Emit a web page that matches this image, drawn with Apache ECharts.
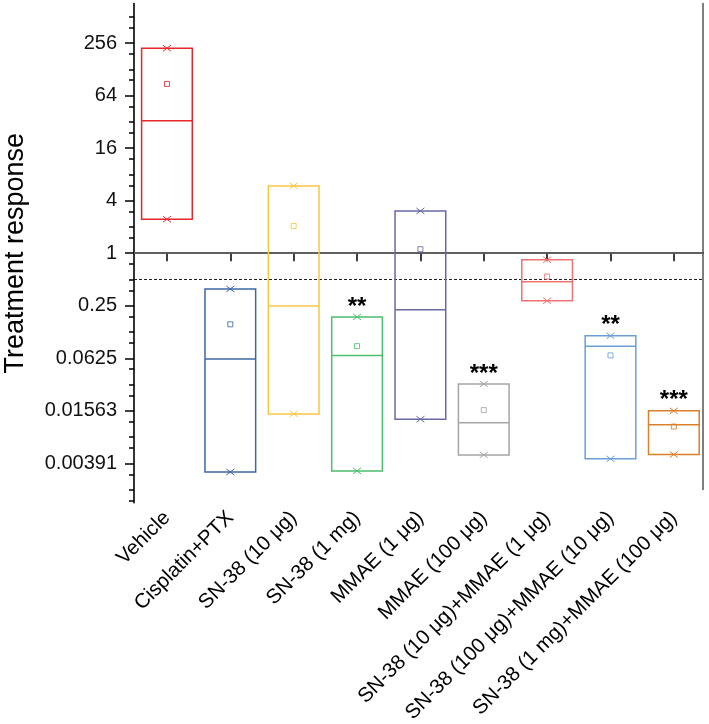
<!DOCTYPE html>
<html><head><meta charset="utf-8">
<script src="https://cdn.jsdelivr.net/npm/echarts@6/dist/echarts.min.js"></script>
<style>html,body{margin:0;padding:0;background:#fff}#c{width:709px;height:724px}</style>
</head><body><div id="c"></div>
<script>
// ---- data ----
const categories = ['Vehicle','Cisplatin+PTX','SN-38 (10 \u03bcg)','SN-38 (1 mg)','MMAE (1 \u03bcg)','MMAE (100 \u03bcg)','SN-38 (10 \u03bcg)+MMAE (1 \u03bcg)','SN-38 (100 \u03bcg)+MMAE (10 \u03bcg)','SN-38 (1 mg)+MMAE (100 \u03bcg)'];
const maxVals    = [223, 0.389, 5.9, 0.186, 3.05, 0.0317, 0.841, 0.113, 0.0156];
const medianVals = [33, 0.0611, 0.248, 0.0674, 0.224, 0.0114, 0.471, 0.086, 0.0108];
const meanVals   = [87, 0.153, 2.05, 0.086, 1.11, 0.0159, 0.54, 0.0674, 0.0103];
const minVals    = [2.45, 0.00311, 0.0144, 0.0032, 0.0125, 0.00488, 0.285, 0.0044, 0.00494];
const significance = ['', '', '', '**', '', '***', '', '**', '***'];
const colors = ['#e8262c','#3d67a6','#f6c842','#4cbf6d','#6a69a6','#a5a5a5','#ef7272','#6c9fd7','#d9802a'];
const yTickValues = [0.00390625, 0.015625, 0.0625, 0.25, 1, 4, 16, 64, 256];
const yTickLabels = ['0.00391','0.01563','0.0625','0.25','1','4','16','64','256'];
const refSolid = 1;
const refDashed = 0.5;

// ---- build ----
const L2 = Math.log2;
const xPos = categories.map((c, i) => i + 1);
const boxData = categories.map((c, i) => [i + 1, L2(maxVals[i]), L2(medianVals[i]), L2(meanVals[i]), L2(minVals[i])]);
const majorT = yTickValues.map(L2);
const minorT = [];
for (let k = -10; k <= 9; k++) {
  if (k >= -9 && k <= 9 && majorT.indexOf(k) < 0) minorT.push(k);
  const m = k + L2(1.5);
  if (m >= -9.5 && m <= 9.5) minorT.push(m);
}
const FONT = 'Liberation Sans, Arial, sans-serif';
const HW = 0.4;
const labelFor = v => {
  const j = majorT.findIndex(t => Math.abs(t - v) < 1e-9);
  return j >= 0 ? yTickLabels[j] : '';
};

const chart = echarts.init(document.getElementById('c'), null, {renderer: 'canvas'});
chart.setOption({
  animation: false,
  backgroundColor: '#fff',
  grid: [
    {left: 134, top: 3.6, width: 569, height: 486, containLabel: false, outerBoundsMode: 'none'},
    {left: 134, top: 3.6, width: 569, height: 499.2, containLabel: false, outerBoundsMode: 'none'}
  ],
  xAxis: [
    {gridIndex: 0, type: 'value', min: 0.48, max: 9.46, position: 'bottom',
     axisLine: {show: true, lineStyle: {color: '#000', width: 1.6}},
     axisTick: {show: true, customValues: xPos, length: 8, lineStyle: {color: '#000', width: 1.5}},
     axisLabel: {customValues: xPos, rotate: 45, fontSize: 20.5, fontFamily: FONT, color: '#000', margin: 25,
       formatter: v => categories[Math.round(v) - 1]},
     splitLine: {show: false}},
    {gridIndex: 0, type: 'value', min: 0.48, max: 9.46, position: 'top',
     axisLine: {show: true, lineStyle: {color: '#555', width: 1.5}},
     axisTick: {show: false}, axisLabel: {show: false}, splitLine: {show: false}},
    {gridIndex: 1, type: 'value', min: 0.48, max: 9.46, show: false}
  ],
  yAxis: [
    {gridIndex: 0, type: 'value', min: -9, max: 9.5, position: 'left',
     axisLine: {show: false}, axisTick: {show: false}, axisLabel: {show: false}, splitLine: {show: false}},
    {gridIndex: 0, type: 'value', min: -9, max: 9.5, position: 'right',
     axisLine: {show: true, lineStyle: {color: '#555', width: 1.5}},
     axisTick: {show: false}, axisLabel: {show: false}, splitLine: {show: false}},
    {gridIndex: 1, type: 'value', min: -9.5, max: 9.5, position: 'left',
     axisLine: {show: true, lineStyle: {color: '#000', width: 1.6}},
     axisTick: {show: true, customValues: majorT, length: 9, lineStyle: {color: '#000', width: 1.5}},
     axisLabel: {customValues: majorT, fontSize: 20, fontFamily: FONT, color: '#111', margin: 17,
       formatter: labelFor},
     splitLine: {show: false},
     name: 'Treatment response', nameLocation: 'middle', nameGap: 105,
     nameTextStyle: {fontSize: 27, fontFamily: FONT, color: '#000'}},
    {gridIndex: 1, type: 'value', min: -9.5, max: 9.5, position: 'left', offset: 0,
     axisLine: {show: false},
     axisTick: {show: true, customValues: minorT, length: 5, lineStyle: {color: '#000', width: 1.5}},
     axisLabel: {show: false}, splitLine: {show: false}}
  ],
  series: [
    {type: 'custom', xAxisIndex: 0, yAxisIndex: 0, data: boxData,
     encode: {x: 0, y: [1, 2, 3, 4]},
     renderItem: function (params, api) {
       const i = params.dataIndex;
       const x = api.value(0);
       const c = colors[i];
       const tl = api.coord([x - HW, api.value(1)]);
       const br = api.coord([x + HW, api.value(4)]);
       const ml = api.coord([x - HW, api.value(2)]);
       const mr = api.coord([x + HW, api.value(2)]);
       const mean = api.coord([x, api.value(3)]);
       const top = api.coord([x, api.value(1)]);
       const bot = api.coord([x, api.value(4)]);
       const cross = (p) => ({type: 'group', children: [
         {type: 'line', shape: {x1: p[0]-4, y1: p[1]-3, x2: p[0]+4, y2: p[1]+3}, style: {stroke: c, lineWidth: 1}},
         {type: 'line', shape: {x1: p[0]-4, y1: p[1]+3, x2: p[0]+4, y2: p[1]-3}, style: {stroke: c, lineWidth: 1}}
       ]});
       const children = [
         {type: 'rect', shape: {x: tl[0], y: tl[1], width: br[0]-tl[0], height: br[1]-tl[1]}, style: {fill: 'none', stroke: c, lineWidth: 1.5}},
         {type: 'line', shape: {x1: ml[0], y1: ml[1], x2: mr[0], y2: mr[1]}, style: {stroke: c, lineWidth: 1.5}},
         {type: 'rect', shape: {x: mean[0]-2.5, y: mean[1]-2.5, width: 5, height: 5}, style: {fill: 'none', stroke: c, lineWidth: 1, opacity: 0.85}},
         cross(top), cross(bot)
       ];
       if (significance[i]) {
         children.push({type: 'text', x: top[0], y: top[1] - 10,
           style: {text: significance[i], fill: '#000', font: 'bold 24px ' + FONT, align: 'center', verticalAlign: 'middle'}});
       }
       return {type: 'group', children: children};
     },
     z: 5},
    {type: 'line', xAxisIndex: 0, yAxisIndex: 0, data: [], silent: true,
     markLine: {silent: true, symbol: 'none', label: {show: false},
       data: [
         {yAxis: L2(refSolid), lineStyle: {color: '#666', width: 1.5, type: 'solid'}},
         {yAxis: L2(refDashed), lineStyle: {color: '#222', width: 1, type: [3, 2]}}
       ]}}
  ]
});
</script></body></html>
